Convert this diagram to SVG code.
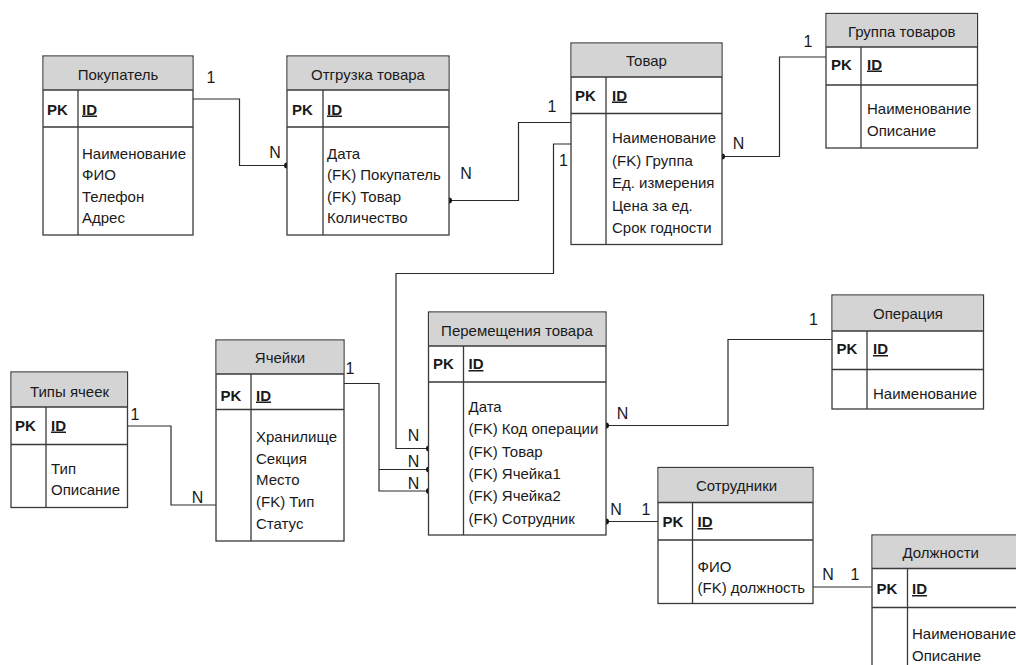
<svg xmlns="http://www.w3.org/2000/svg" width="1016" height="665" viewBox="0 0 1016 665">
<style>
text{font-family:"Liberation Sans",Arial,sans-serif;font-size:15px;fill:#1a1a1a}
.hd{fill:#d4d4d4;stroke:none}
.box{fill:#ffffff;stroke:#3a3a3a;stroke-width:1.3}
.ln{stroke:#3a3a3a;stroke-width:1.3;fill:none}
.ht{text-anchor:middle}
.pk{font-weight:bold}
.id{font-weight:bold;text-decoration:underline}
.lbl{font-size:16px;text-anchor:middle}
.dot{fill:#111}
.cn{stroke:#2a2a2a;stroke-width:1.2;fill:none}
</style>
<rect width="1016" height="665" fill="#ffffff"/>

<g id="connectors">
<path class="cn" d="M193,99 H239.5 V165.5 H287"/>
<circle class="dot" cx="287" cy="165.5" r="3"/>
<path class="cn" d="M449,200.5 H518.5 V122.5 H571"/>
<circle class="dot" cx="449" cy="200.5" r="3"/>
<path class="cn" d="M722,156.5 H779.5 V57 H826"/>
<circle class="dot" cx="722" cy="156.5" r="3"/>
<path class="cn" d="M571,144 H553.5 V273.5 H396 V448.5 H429"/>
<circle class="dot" cx="429" cy="448.5" r="3"/>
<path class="cn" d="M344,383.5 H379 V491 H429 M379,469.5 H429"/>
<circle class="dot" cx="429" cy="469.5" r="3"/>
<circle class="dot" cx="429" cy="491" r="3"/>
<path class="cn" d="M606,425.5 H728 V339.5 H832"/>
<circle class="dot" cx="606" cy="425.5" r="3"/>
<path class="cn" d="M606,521.5 H658"/>
<circle class="dot" cx="606" cy="521.5" r="3"/>
<path class="cn" d="M808.5,587 H872"/>
<circle class="dot" cx="808.5" cy="587" r="3"/>
<path class="cn" d="M127.5,426 H171 V505 H221"/>
<circle class="dot" cx="221" cy="505" r="3"/>
<text class="lbl" x="211" y="83">1</text>
<text class="lbl" x="275" y="158">N</text>
<text class="lbl" x="466" y="179">N</text>
<text class="lbl" x="552" y="112">1</text>
<text class="lbl" x="738.5" y="149">N</text>
<text class="lbl" x="808" y="47">1</text>
<text class="lbl" x="563.5" y="166">1</text>
<text class="lbl" x="413.5" y="441">N</text>
<text class="lbl" x="413.5" y="467">N</text>
<text class="lbl" x="413.5" y="488.5">N</text>
<text class="lbl" x="350" y="374">1</text>
<text class="lbl" x="622.5" y="419">N</text>
<text class="lbl" x="813.5" y="325">1</text>
<text class="lbl" x="616" y="515">N</text>
<text class="lbl" x="646" y="515">1</text>
<text class="lbl" x="828" y="580">N</text>
<text class="lbl" x="855" y="580">1</text>
<text class="lbl" x="135" y="420">1</text>
<text class="lbl" x="197.5" y="503">N</text>
</g>

<g id="pokupatel">
<rect class="box" x="43" y="56" width="150" height="179"/>
<rect class="hd" x="43.7" y="56.7" width="148.6" height="33.3"/>
<path class="ln" d="M43,90 H193 M43,127 H193 M78,90 V235"/>
<text class="ht" x="118" y="79.5">Покупатель</text>
<text class="pk" x="47" y="114.5">PK</text>
<text class="id" x="82" y="114.5">ID</text>
<text x="82" y="158.5">Наименование</text>
<text x="82" y="180">ФИО</text>
<text x="82" y="201.5">Телефон</text>
<text x="82" y="223">Адрес</text>
</g>

<g id="otgruzka">
<rect class="box" x="287" y="56" width="162" height="179"/>
<rect class="hd" x="287.7" y="56.7" width="160.6" height="33.3"/>
<path class="ln" d="M287,90 H449 M287,127 H449 M323,90 V235"/>
<text class="ht" x="368" y="79.5">Отгрузка товара</text>
<text class="pk" x="292" y="114.5">PK</text>
<text class="id" x="327" y="114.5">ID</text>
<text x="327" y="158.5">Дата</text>
<text x="327" y="180">(FK) Покупатель</text>
<text x="327" y="201.5">(FK) Товар</text>
<text x="327" y="223">Количество</text>
</g>

<g id="tovar">
<rect class="box" x="571" y="43" width="151" height="201.5"/>
<rect class="hd" x="571.7" y="43.7" width="149.6" height="33.3"/>
<path class="ln" d="M571,77 H722 M571,113.5 H722 M606,77 V244.5"/>
<text class="ht" x="646.5" y="65.5">Товар</text>
<text class="pk" x="575" y="100.5">PK</text>
<text class="id" x="612" y="100.5">ID</text>
<text x="612" y="143">Наименование</text>
<text x="612" y="165.5">(FK) Группа</text>
<text x="612" y="188">Ед. измерения</text>
<text x="612" y="210.5">Цена за ед.</text>
<text x="612" y="233">Срок годности</text>
</g>

<g id="gruppa">
<rect class="box" x="826" y="13.5" width="151.5" height="134.5"/>
<rect class="hd" x="826.7" y="14.2" width="150.1" height="32.8"/>
<path class="ln" d="M826,47 H977.5 M826,85 H977.5 M861,47 V148"/>
<text class="ht" x="901.7" y="36.5">Группа товаров</text>
<text class="pk" x="831" y="69.5">PK</text>
<text class="id" x="867" y="69.5">ID</text>
<text x="867" y="114">Наименование</text>
<text x="867" y="136">Описание</text>
</g>

<g id="tipy">
<rect class="box" x="11" y="372" width="116.5" height="135.5"/>
<rect class="hd" x="11.7" y="372.7" width="115.1" height="34.3"/>
<path class="ln" d="M11,407 H127.5 M11,444.5 H127.5 M46,407 V507.5"/>
<text class="ht" x="69.5" y="396.5">Типы ячеек</text>
<text class="pk" x="15" y="430.5">PK</text>
<text class="id" x="51" y="430.5">ID</text>
<text x="51" y="473.5">Тип</text>
<text x="51" y="494.5">Описание</text>
</g>

<g id="yacheyki">
<rect class="box" x="216" y="340" width="128" height="201"/>
<rect class="hd" x="216.7" y="340.7" width="126.6" height="33.3"/>
<path class="ln" d="M216,374 H344 M216,409.5 H344 M251,374 V541"/>
<text class="ht" x="280" y="362.5">Ячейки</text>
<text class="pk" x="220.5" y="400.5">PK</text>
<text class="id" x="256" y="400.5">ID</text>
<text x="256" y="442">Хранилище</text>
<text x="256" y="463.7">Секция</text>
<text x="256" y="485.4">Место</text>
<text x="256" y="507.1">(FK) Тип</text>
<text x="256" y="528.8">Статус</text>
</g>

<g id="peremeshcheniya">
<rect class="box" x="428.5" y="312" width="177.5" height="223"/>
<rect class="hd" x="429.2" y="312.7" width="176.1" height="33.3"/>
<path class="ln" d="M428.5,346 H606 M428.5,382 H606 M463.5,346 V535"/>
<text class="ht" x="517" y="335.5">Перемещения товара</text>
<text class="pk" x="433" y="369">PK</text>
<text class="id" x="468.5" y="369">ID</text>
<text x="468.5" y="412">Дата</text>
<text x="468.5" y="434.3">(FK) Код операции</text>
<text x="468.5" y="456.6">(FK) Товар</text>
<text x="468.5" y="478.9">(FK) Ячейка1</text>
<text x="468.5" y="501.2">(FK) Ячейка2</text>
<text x="468.5" y="523.5">(FK) Сотрудник</text>
</g>

<g id="operaciya">
<rect class="box" x="832" y="295" width="151.5" height="114"/>
<rect class="hd" x="832.7" y="295.7" width="150.1" height="35.3"/>
<path class="ln" d="M832,331 H983.5 M832,369.5 H983.5 M867,331 V409"/>
<text class="ht" x="908" y="319">Операция</text>
<text class="pk" x="836.5" y="354">PK</text>
<text class="id" x="873" y="354">ID</text>
<text x="873" y="399">Наименование</text>
</g>

<g id="sotrudniki">
<rect class="box" x="658" y="467.5" width="155" height="136"/>
<rect class="hd" x="658.7" y="468.2" width="153.6" height="34.3"/>
<path class="ln" d="M658,502.5 H813 M658,540 H813 M692.5,502.5 V603.5"/>
<text class="ht" x="736.5" y="490.5">Сотрудники</text>
<text class="pk" x="662.5" y="527">PK</text>
<text class="id" x="697.5" y="527">ID</text>
<text x="697.5" y="572">ФИО</text>
<text x="697.5" y="592.5">(FK) должность</text>
</g>

<g id="dolzhnosti">
<rect class="box" x="872" y="535" width="170" height="145"/>
<rect class="hd" x="872.7" y="535.7" width="168.6" height="32.8"/>
<path class="ln" d="M872,568.5 H1042 M872,607.5 H1042 M907.5,568.5 V680"/>
<text class="ht" x="940.7" y="558">Должности</text>
<text class="pk" x="876.5" y="594">PK</text>
<text class="id" x="912" y="594">ID</text>
<text x="912" y="639">Наименование</text>
<text x="912" y="660.5">Описание</text>
</g>
</svg>
